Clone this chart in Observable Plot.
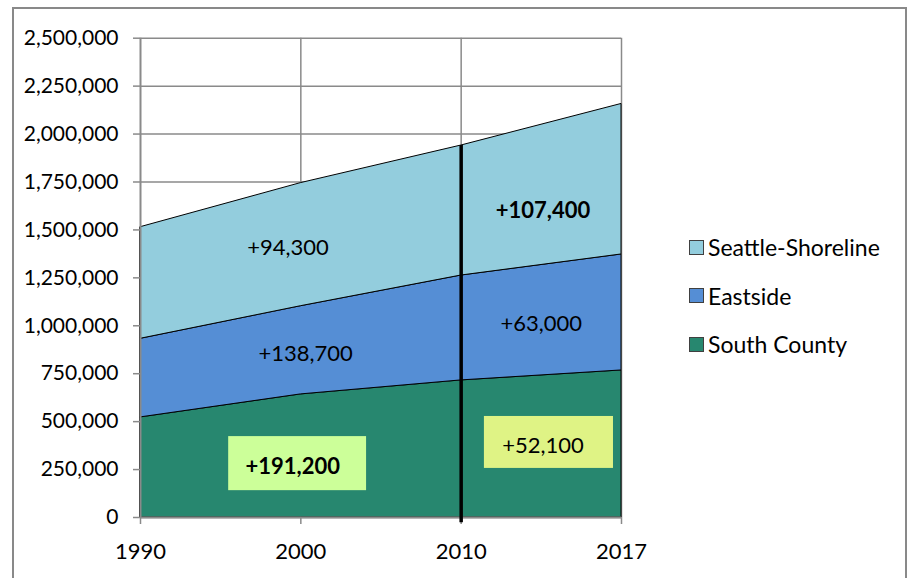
<!DOCTYPE html>
<html>
<head>
<meta charset="utf-8">
<script src="https://cdn.jsdelivr.net/npm/d3@7"></script>
<script src="https://cdn.jsdelivr.net/npm/@observablehq/plot@0.6"></script>
<style>
  html, body { margin: 0; padding: 0; background: #fff; }
  #wrap { position: relative; width: 909px; height: 578px; overflow: hidden; font-family: Lato, "Noto Sans", sans-serif; }
  #border { position: absolute; left: 12px; top: 7px; width: 895px; height: 620px; border: 2px solid #898989; box-sizing: border-box; }
  #chart { position: absolute; left: 0; top: 0; }
  #legend { position: absolute; left: 689px; top: 223px; }
  .item { display: flex; align-items: center; height: 48.5px; font-size: 23px; color: #000; }
  .sw { width: 13px; height: 13px; border: 1px solid #404040; margin-right: 4px; }
</style>
</head>
<body>
<div id="wrap">
  <div id="border"></div>
  <div id="chart"></div>
  <div id="legend"></div>
</div>
<script>
// ---- data ----
const years = ["1990", "2000", "2010", "2017"];
const seriesNames = ["South County", "Eastside", "Seattle-Shoreline"];
const southCounty = [522000, 642000, 715000, 767000];
const eastside = [410000, 460000, 547000, 605000];
const seattleShoreline = [582000, 642000, 678000, 785000];
const yTicks = [0, 250000, 500000, 750000, 1000000, 1250000, 1500000, 1750000, 2000000, 2250000, 2500000];

// growth annotations (label, x position in year index units, y in population units)
const annLabels = ["+94,300", "+107,400", "+138,700", "+63,000", "+191,200", "+52,100"];
const annX = [0.92, 2.51, 1.03, 2.50, 0.95, 2.51];
const annY = [1408000, 1601000, 855000, 1012000, 266000, 375000];
const annBold = [false, true, false, false, true, false];
// highlight boxes: [x1, x2, y1, y2] in data units
const boxLeft = [0.55, 1.41, 140000, 422000];
const boxRight = [2.145, 2.95, 256000, 527000];

const colors = ["#27876f", "#558ed5", "#93cddd"];

const valuesBySeries = [southCounty, eastside, seattleShoreline];
const rows = [];
seriesNames.forEach((s, k) => years.forEach((yr, i) => rows.push({series: s, i, value: valuesBySeries[k][i]})));
const ann = annLabels.map((t, k) => ({text: t, x: annX[k], y: annY[k], bold: annBold[k]}));
const total2010 = southCounty[2] + eastside[2] + seattleShoreline[2];

const grid = "#8a8a8a";

const chart = Plot.plot({
  width: 909,
  height: 578,
  marginLeft: 140,
  marginRight: 288,
  marginTop: 37.7,
  marginBottom: 61,
  style: {fontFamily: "Lato, 'Noto Sans', sans-serif", fontSize: "21px", background: "transparent", color: "#000"},
  x: {type: "linear", domain: [0, 3]},
  y: {domain: [0, 2500000]},
  color: {domain: seriesNames, range: colors},
  marks: [
    Plot.gridY(yTicks, {stroke: grid, strokeOpacity: 1, strokeWidth: 1.5}),
    Plot.gridX([1, 2, 3], {stroke: grid, strokeOpacity: 1, strokeWidth: 1.5}),
    Plot.areaY(rows, {x: "i", y: "value", z: "series", fill: "series", stroke: "black", strokeWidth: 1, fillOpacity: 1}),
    Plot.ruleY([0], {stroke: grid, strokeWidth: 2}),
    Plot.ruleX([0], {stroke: grid, strokeWidth: 2}),
    Plot.axisY(yTicks, {tickFormat: d3.format(","), tickSize: 7, tickPadding: 15, stroke: grid, fill: "#000", fontSize: 21, strokeWidth: 1.5, label: null}),
    Plot.axisX([0, 1, 2, 3], {tickFormat: i => years[i], tickSize: 7, tickPadding: 19, stroke: grid, fill: "#000", fontSize: 22, strokeWidth: 1.5, label: null}),
    Plot.rect([boxLeft], {x1: d => d[0], x2: d => d[1], y1: d => d[2], y2: d => d[3], fill: "#ccff99"}),
    Plot.rect([boxRight], {x1: d => d[0], x2: d => d[1], y1: d => d[2], y2: d => d[3], fill: "#dff385"}),
    Plot.ruleX([2], {y1: -27000, y2: total2010, stroke: "#000", strokeWidth: 3.5, clip: false}),
    Plot.text(ann.filter(d => !d.bold), {x: "x", y: "y", text: "text", fontSize: 22, fill: "#000"}),
    Plot.text(ann.filter(d => d.bold), {x: "x", y: "y", text: "text", fontSize: 22, fontWeight: "bold", fill: "#000"})
  ]
});
document.getElementById("chart").appendChild(chart);

// legend (top to bottom: reverse stacking order)
const legend = document.getElementById("legend");
seriesNames.slice().reverse().forEach(name => {
  const idx = seriesNames.indexOf(name);
  const item = document.createElement("div");
  item.className = "item";
  const sw = document.createElement("div");
  sw.className = "sw";
  sw.style.background = colors[idx];
  const lab = document.createElement("span");
  lab.textContent = name;
  item.appendChild(sw);
  item.appendChild(lab);
  legend.appendChild(item);
});
</script>
</body>
</html>
